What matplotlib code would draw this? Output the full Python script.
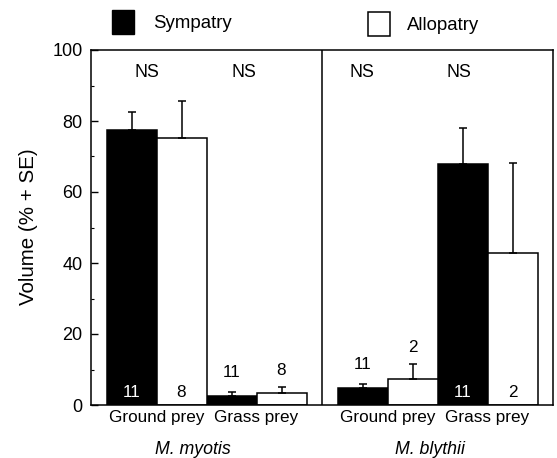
import matplotlib
matplotlib.use("Agg")
import matplotlib.pyplot as plt
from matplotlib.patches import Rectangle

plt.rcParams['font.family'] = ['Liberation Sans', 'DejaVu Sans']

species = ["M. myotis", "M. blythii"]
prey = ["Ground prey", "Grass prey"]
groups = ["Sympatry", "Allopatry"]
# order: myotis ground, myotis grass, blythii ground, blythii grass
symp_mean = [77.5, 2.5, 4.7, 67.8]
symp_top = [82.6, 3.6, 5.9, 78.0]
allo_mean = [75.3, 3.3, 7.2, 42.7]
allo_top = [85.7, 5.0, 11.5, 68.3]
symp_n = ["11", "11", "11", "11"]
allo_n = ["8", "8", "2", "2"]
sig = ["NS", "NS", "NS", "NS"]

W, H = 557, 458
fig = plt.figure(figsize=(W / 100, H / 100), dpi=100)
ax = fig.add_axes([91 / W, 1 - 405 / H, (553 - 91) / W, (405 - 50) / H])

# bar left edges in data units (1 unit = bar width)
group_left = [0.31, 2.31, 4.93, 6.93]
symp_x = [g + 0.5 for g in group_left]
allo_x = [g + 1.5 for g in group_left]

ax.bar(symp_x, symp_mean, width=1.0, color='black', edgecolor='black', linewidth=1.1, zorder=2)
ax.bar(allo_x, allo_mean, width=1.0, color='white', edgecolor='black', linewidth=1.1, zorder=2)
ekw = dict(fmt='none', ecolor='black', elinewidth=1.1, capsize=2.6, capthick=1.1, zorder=3)
ax.errorbar(symp_x, symp_mean, yerr=[[0] * 4, [t - m for t, m in zip(symp_top, symp_mean)]], **ekw)
ax.errorbar(allo_x, allo_mean, yerr=[[0] * 4, [t - m for t, m in zip(allo_top, allo_mean)]], **ekw)

ax.set_xlim(0, 9.24)
ax.set_ylim(0, 100)
ax.axvline(4.62, color='black', linewidth=1.1)
for s in ax.spines.values():
    s.set_linewidth(1.1)

ax.set_yticks([0, 20, 40, 60, 80, 100])
ax.set_yticks([10, 30, 50, 70, 90], minor=True)
ax.tick_params(axis='y', which='major', direction='in', length=5, width=1.0, labelsize=13, pad=6)
ax.tick_params(axis='y', which='minor', direction='in', length=2.5, width=0.8)
ax.tick_params(axis='x', which='both', length=0, labelsize=12.3, pad=3.5)
ax.set_xticks([g + 1.0 for g in group_left])
ax.set_xticklabels(prey * 2)
fig.text(29 / W, 1 - 227 / H, "Volume (% + SE)", rotation=90, ha='center', va='center', fontsize=14.8)

# NS labels
ns_x = [1.12, 3.06, 5.42, 7.36]
for x, t in zip(ns_x, sig):
    ax.text(x, 93.8, t, ha='center', va='center', fontsize=12.8)

# n labels
inside_symp = [True, False, False, True]
inside_allo = [True, False, False, True]
for i in range(4):
    if inside_symp[i]:
        ax.text(symp_x[i], 3.6, symp_n[i], ha='center', va='center', color='white', fontsize=12.3, zorder=4)
    else:
        ax.text(symp_x[i], symp_top[i] + 5.6, symp_n[i], ha='center', va='center', fontsize=12.3, zorder=4)
    if inside_allo[i]:
        ax.text(allo_x[i], 3.6, allo_n[i], ha='center', va='center', color='black', fontsize=12.3, zorder=4)
    else:
        ax.text(allo_x[i], allo_top[i] + 4.6, allo_n[i], ha='center', va='center', fontsize=12.3, zorder=4)

# species labels
for x, sp in zip([2.03, 6.78], species):
    ax.text(x, -12.4, sp, ha='center', va='center', fontsize=12.8, style='italic',
            transform=ax.transData, clip_on=False)

# legend drawn in figure pixel coords
fig.patches.append(Rectangle((112 / W, 1 - 34 / H), 22 / W, 24 / H, transform=fig.transFigure,
                             facecolor='black', edgecolor='black', linewidth=1.0))
fig.patches.append(Rectangle((368 / W, 1 - 36 / H), 22 / W, 24 / H, transform=fig.transFigure,
                             facecolor='white', edgecolor='black', linewidth=1.1))
fig.text(153 / W, 1 - 24 / H, groups[0], ha='left', va='center', fontsize=13.4)
fig.text(407 / W, 1 - 25 / H, groups[1], ha='left', va='center', fontsize=13.4)

fig.savefig("out.png", dpi=100)
